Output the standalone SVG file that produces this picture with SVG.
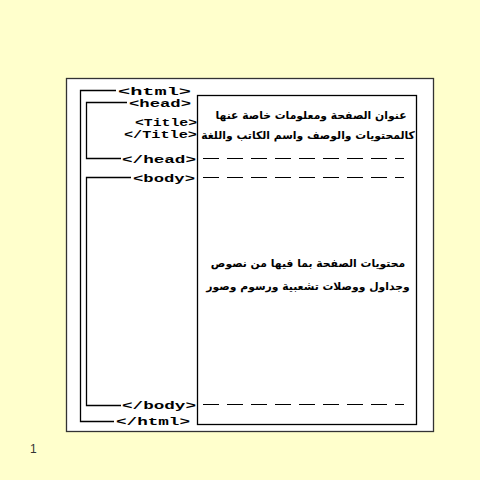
<svg xmlns="http://www.w3.org/2000/svg" width="480" height="480" viewBox="0 0 480 480">
<style>
.tag{font-family:"Liberation Mono","DejaVu Sans Mono",monospace;font-weight:bold;font-size:11px;fill:#000}
.ar{font-family:"DejaVu Sans",sans-serif;font-weight:bold;font-size:10.8px;fill:#000}
.ln{stroke:#000;stroke-width:1.3;fill:none}
.dash{stroke:#000;stroke-width:1.2;stroke-dasharray:16 8;fill:none}
</style>
<rect x="0" y="0" width="480" height="480" fill="#FFFFCC"/>
<rect x="66.5" y="78.5" width="367" height="353" fill="#fff" stroke="#333" stroke-width="1.3"/>
<g id="content-box">
<rect x="197.5" y="95.5" width="219" height="329" fill="#fff" stroke="#000" stroke-width="1.3"/>
</g>
<g id="connectors">
<path class="ln" d="M116,90.5 H80.5 V421.5 H114"/>
<path class="ln" d="M127,102.5 H86.5 V158.5 H121"/>
<path class="ln" d="M131,177.5 H86.5 V405.5 H121"/>
<path class="dash" d="M203,158.5 H404"/>
<path class="dash" d="M203,177.5 H404"/>
<path class="dash" d="M203,404.5 H404"/>
</g>
<g id="html-open"><text class="tag" x="118" y="94.5" textLength="73" lengthAdjust="spacingAndGlyphs">&lt;html&gt;</text></g>
<g id="head-open"><text class="tag" x="129" y="107" textLength="62" lengthAdjust="spacingAndGlyphs">&lt;head&gt;</text></g>
<g id="title-open"><text class="tag" x="135" y="125.5" textLength="62" lengthAdjust="spacingAndGlyphs">&lt;Title&gt;</text></g>
<g id="title-close"><text class="tag" x="124" y="138" textLength="73" lengthAdjust="spacingAndGlyphs">&lt;/Title&gt;</text></g>
<g id="head-close"><text class="tag" x="122" y="163" textLength="74" lengthAdjust="spacingAndGlyphs">&lt;/head&gt;</text></g>
<g id="body-open"><text class="tag" x="133" y="182" textLength="62" lengthAdjust="spacingAndGlyphs">&lt;body&gt;</text></g>
<g id="body-close"><text class="tag" x="122" y="409" textLength="74" lengthAdjust="spacingAndGlyphs">&lt;/body&gt;</text></g>
<g id="html-close"><text class="tag" x="116" y="425" textLength="74" lengthAdjust="spacingAndGlyphs">&lt;/html&gt;</text></g>
<g id="head-desc">
<text class="ar" x="311" y="119" text-anchor="middle" direction="rtl">عنوان الصفحة ومعلومات خاصة عنها</text>
<text class="ar" x="308" y="139" text-anchor="middle" direction="rtl">كالمحتويات والوصف واسم الكاتب واللغة</text>
</g>
<g id="body-desc">
<text class="ar" x="308" y="267" text-anchor="middle" direction="rtl">محتويات الصفحة بما فيها من نصوص</text>
<text class="ar" x="308" y="290" text-anchor="middle" direction="rtl">وجداول ووصلات تشعبية ورسوم وصور</text>
</g>
<text x="30" y="453" font-family="Liberation Sans,Arial,sans-serif" font-size="12" fill="#333">1</text>
</svg>
